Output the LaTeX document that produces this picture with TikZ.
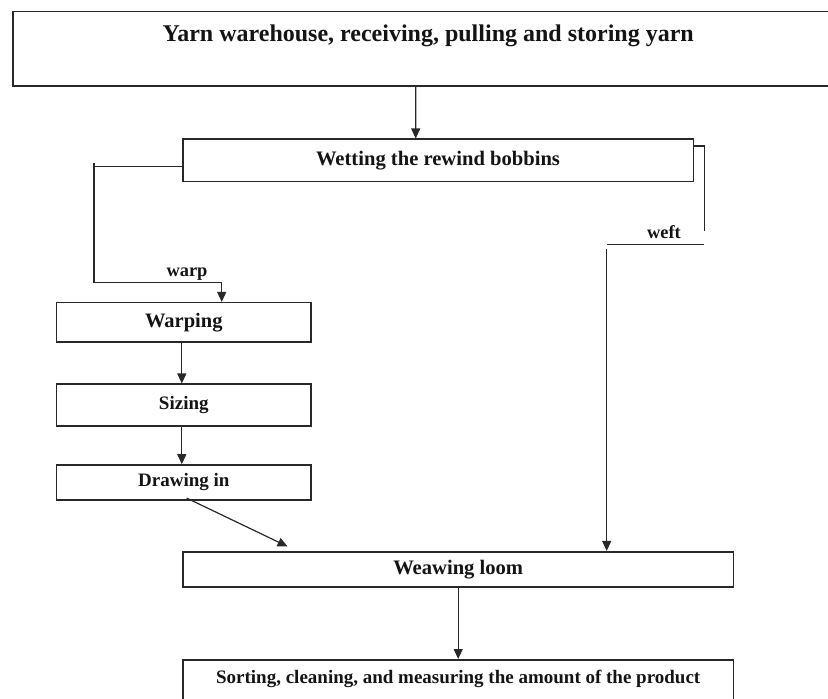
\documentclass[tikz,border=0pt]{standalone}
\usepackage{fontspec}
\setmainfont{Liberation Serif}
\usetikzlibrary{arrows.meta, positioning, calc}
\definecolor{chartInk}{RGB}{20,20,20}
\definecolor{chartLine}{RGB}{40,40,40}
\tikzset{
  % plain process box, bold serif text
  box/.style={
    draw=chartLine, line width=0.8pt, rectangle,
    align=center, inner sep=0pt, text=chartInk, font=\bfseries
  },
  % a wide box whose text sits near its top edge
  headbox/.style={box, anchor=north, inner ysep=3pt},
  % arrows
  flow/.style={-{Triangle[length=5pt,width=4.5pt]}, draw=chartLine, line width=0.6pt},
  wire/.style={draw=chartLine, line width=0.6pt},
  % small labels on the split lines
  tag/.style={font=\bfseries\fontsize{9.2}{10}\selectfont, text=chartInk, inner sep=1pt},
}
\newcommand{\fsz}[1]{\bfseries\fontsize{#1}{#1}\selectfont}

\begin{document}
\begin{tikzpicture}[x=0.5pt, y=-0.5pt]

\useasboundingbox (0,0) rectangle (828,699);
\clip (0,0) rectangle (828,699);

% ------------------------------- the boxes ---------------------------------
\node[headbox, minimum width=415pt, text height=11.8pt, text depth=19.35pt,
      font=\fsz{12}] (yarn) at (428.2,10.7)
      {Yarn warehouse, receiving, pulling and storing yarn};
\node[box, minimum width=255.3pt, minimum height=21.2pt, font=\fsz{10.3}]
      (wet) at (438,160.5) {Wetting the rewind bobbins};
\node[box, minimum width=127.2pt, minimum height=19.7pt, font=\fsz{10.25}]
      (warping) at (183.8,322.4) {Warping};
\node[box, minimum width=127.2pt, minimum height=20.7pt, font=\fsz{9.5}]
      (sizing) at (183.8,405) {Sizing};
\node[box, minimum width=127.2pt, minimum height=17.5pt, font=\fsz{9.5}]
      (drawin) at (183.8,482.5) {Drawing in};
\node[box, minimum width=275.2pt, minimum height=17.5pt, font=\fsz{10.3}]
      (weave) at (458.2,569.2) {Weawing loom};
\node[headbox, minimum width=275.2pt, text height=8.85pt, text depth=22pt,
      font=\fsz{9.5}] (sort) at (458.2,659)
      {Sorting, cleaning, and measuring the amount of the product};

% ------------------------------- warp branch -------------------------------
\draw[flow] ([xshift=-6.25pt]yarn.south) -- ([xshift=-11.15pt]wet.north);
\draw[flow] ([yshift=-3.1pt]wet.west) -- ++(-88,0) ++(0,-4) -- ++(0,120)
      -| ([xshift=18.95pt]warping.north);
\node[tag] (warplbl) at (187,274) {warp};

\draw[flow] ([xshift=-1pt]warping.south) -- ([xshift=-1pt]sizing.north);
\draw[flow] ([xshift=-1pt]sizing.south) -- ([xshift=-1pt]drawin.north);
\draw[flow] ([xshift=1.45pt,yshift=1.35pt]drawin.south)
      -- ([xshift=52.7pt,yshift=2.2pt]weave.north west);

% ------------------------------- weft branch -------------------------------
\draw[wire] ([yshift=7.25pt]wet.east) -- ++(10.7,0) -- ++(0,84.7);
\coordinate (weftR) at (704,244.7);
\coordinate (weftL) at (606.7,244.7);
\draw[wire] (weftL) -- (weftR);
\node[tag] (weftlbl) at (664,232) {weft};
\coordinate (weftDrop) at (606.7,249);
\draw[flow] (weftDrop) -- (weftDrop |- weave.north);

% ------------------------------- output ------------------------------------
\draw[flow] (weave.south) -- (sort.north);

\end{tikzpicture}
\end{document}
